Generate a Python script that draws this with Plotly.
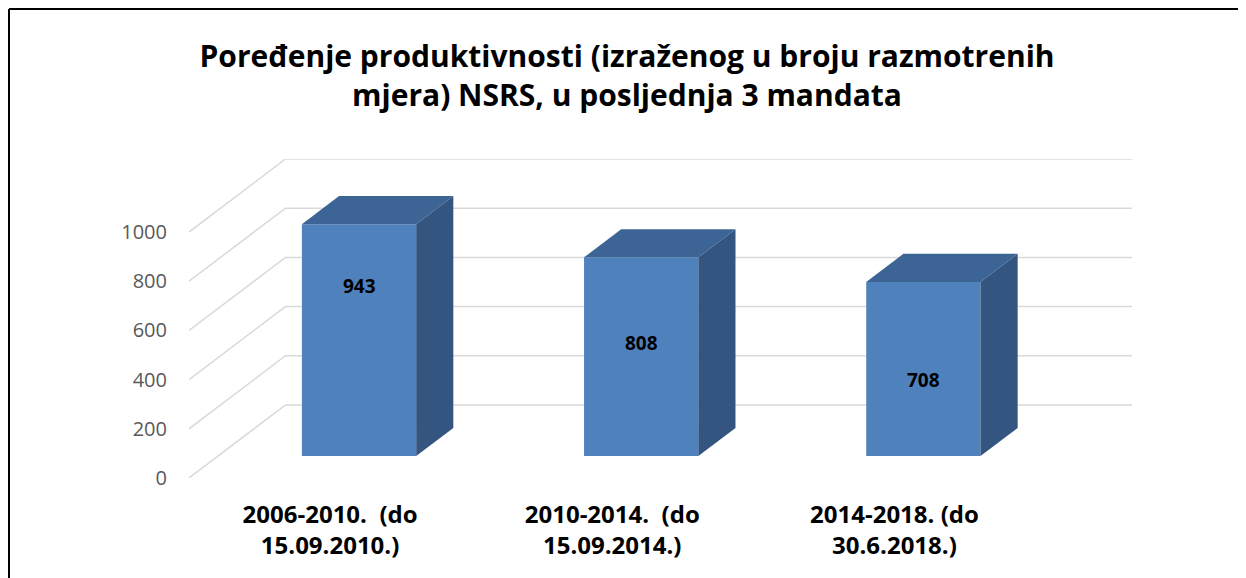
import plotly.graph_objects as go

# ---- data ----
categories = ["2006-2010.  (do<br>15.09.2010.)",
              "2010-2014.  (do<br>15.09.2014.)",
              "2014-2018. (do<br>30.6.2018.)"]
values = [943, 808, 708]
y_ticks = [0, 200, 400, 600, 800, 1000]
title_text = ("Poređenje produktivnosti (izraženog u broju razmotrenih<br>"
              "mjera) NSRS, u posljednja 3 mandata")

# ---- pseudo-3D projection settings (styling) ----
DEPTH_DX = 0.342      # horizontal shift of back wall, in category units
DEPTH_DY = 297        # vertical shift of back wall, in value units
BAR_W = 0.405         # bar width in category units
F_FRONT = 0.30        # depth fraction of bar front face
F_BACK = 0.685        # depth fraction of bar back face
label_frac = [0.733, 0.569, 0.436]

FRONT_C = "#4F81BD"
TOP_C = "#3C6494"
SIDE_C = "#34557F"
GRID_C = "#D9D9D9"
FONT = "Open Sans"

xs = list(range(len(values)))
x_lo, x_hi = -0.5, len(values) - 0.5

fig = go.Figure()

# front faces of bars
fx = [i + DEPTH_DX * F_FRONT for i in xs]
base = DEPTH_DY * F_FRONT
fig.add_trace(go.Bar(
    x=fx, y=values, base=[base] * len(values), width=BAR_W,
    marker=dict(color=FRONT_C, line=dict(width=0)),
    hoverinfo="skip", showlegend=False))

ddx = DEPTH_DX * (F_BACK - F_FRONT)
ddy = DEPTH_DY * (F_BACK - F_FRONT)
for cx, v in zip(fx, values):
    xl, xr = cx - BAR_W / 2, cx + BAR_W / 2
    top = base + v
    # top face
    fig.add_trace(go.Scatter(
        x=[xl, xr, xr + ddx, xl + ddx, xl],
        y=[top, top, top + ddy, top + ddy, top],
        fill="toself", fillcolor=TOP_C, mode="lines",
        line=dict(width=0, color=TOP_C), hoverinfo="skip", showlegend=False))
    # side face
    fig.add_trace(go.Scatter(
        x=[xr, xr, xr + ddx, xr + ddx, xr],
        y=[base, top, top + ddy, base + ddy, base],
        fill="toself", fillcolor=SIDE_C, mode="lines",
        line=dict(width=0, color=SIDE_C), hoverinfo="skip", showlegend=False))

# gridlines: side-wall diagonal + back-wall horizontal
for t in y_ticks:
    fig.add_shape(type="path", layer="below", xref="x", yref="y",
                  path=f"M {x_lo},{t} L {x_lo + DEPTH_DX},{t + DEPTH_DY} "
                       f"L {x_hi + DEPTH_DX},{t + DEPTH_DY}",
                  line=dict(color=GRID_C, width=1.5))

# data labels
for cx, v, fr in zip(fx, values, label_frac):
    fig.add_annotation(x=cx, y=base + v * fr, text=f"<b>{v}</b>",
                       showarrow=False, xanchor="center", yanchor="middle",
                       font=dict(family=FONT, size=19, color="black"))

# figure sits 8px inside the page (body margin)
W, H = 1238, 570
L, R, T, B = 181, 114, 151, 100
pw, ph = W - L - R, H - T - B
def px_x(p):
    return (p - L) / pw
def px_y(p):
    return (H - B - p) / ph

# border (left and top)
fig.add_shape(type="line", xref="paper", yref="paper",
              x0=px_x(1), x1=px_x(1), y0=px_y(1), y1=px_y(H + 5),
              line=dict(color="black", width=2))
fig.add_shape(type="line", xref="paper", yref="paper",
              x0=px_x(1), x1=px_x(W + 5), y0=px_y(1), y1=px_y(1),
              line=dict(color="black", width=2))

fig.update_layout(
    width=W, height=H, autosize=False,
    margin=dict(l=L, r=R, t=T, b=B, pad=0),
    paper_bgcolor="white", plot_bgcolor="white",
    title=dict(text=f"<b>{title_text}</b>", x=619 / W, xref="container",
               xanchor="center", y=1 - 59 / H, yref="container",
               yanchor="middle",
               font=dict(family=FONT, size=30, color="black")),
    xaxis=dict(range=[x_lo, x_hi + DEPTH_DX], tickvals=xs,
               ticktext=[f"<b>{c}</b>" for c in categories],
               showgrid=False, zeroline=False, showline=False,
               ticks="outside", ticklen=15, tickcolor="rgba(0,0,0,0)",
               tickfont=dict(family=FONT, size=24, color="black"),
               fixedrange=True),
    yaxis=dict(range=[0, 1297], tickvals=y_ticks,
               showgrid=False, zeroline=False, showline=False,
               ticks="outside", ticklen=17, tickcolor="rgba(0,0,0,0)",
               tickfont=dict(family=FONT, size=20, color="#595959"),
               fixedrange=True),
    showlegend=False,
)

fig.write_html("out.html")
